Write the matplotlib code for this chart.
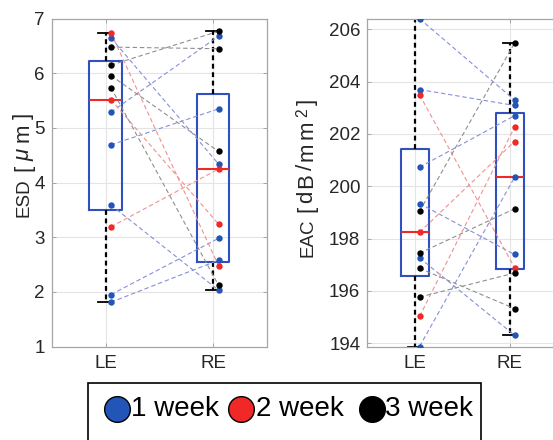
import numpy as np
import matplotlib
matplotlib.use("Agg")
import matplotlib.pyplot as plt
from matplotlib.lines import Line2D
from matplotlib.patches import Rectangle

plt.rcParams['font.family'] = ['Liberation Sans', 'DejaVu Sans']
plt.rcParams['mathtext.fontset'] = 'custom'
plt.rcParams['mathtext.it'] = 'Liberation Sans:italic'
plt.rcParams['mathtext.rm'] = 'Liberation Sans'

# ---------------- data ----------------
categories = ["LE", "RE"]
week_labels = ["1 week", "2 week", "3 week"]

esd_le_week1 = [6.65, 5.29, 4.69, 3.59, 1.95, 1.81]
esd_re_week1 = [4.34, 6.68, 5.35, 2.03, 2.98, 2.58]
esd_le_week2 = [6.74, 5.52, 3.19]
esd_re_week2 = [2.48, 3.24, 4.25]
esd_le_week3 = [6.48, 6.15, 5.96, 5.74]
esd_re_week3 = [6.45, 6.77, 4.57, 2.12]

eac_le_week1 = [206.41, 203.70, 200.73, 199.34, 197.26, 193.87]
eac_re_week1 = [203.30, 203.09, 202.70, 197.39, 194.30, 200.34]
eac_le_week2 = [203.50, 198.24, 195.02]
eac_re_week2 = [196.89, 201.71, 202.26]
eac_le_week3 = [199.04, 197.44, 196.86, 195.76]
eac_re_week3 = [205.48, 199.14, 195.32, 196.68]

esd_yticks = [1, 2, 3, 4, 5, 6, 7]
eac_yticks = [194, 196, 198, 200, 202, 204, 206]

# ---------------- style ----------------
W, H = 553, 440
fig = plt.figure(figsize=(W / 100, H / 100), dpi=100)

BLUE = '#2155b8'
RED = '#f02828'
BLACK = '#000000'
LINE_COLORS = ['#8590d8', '#f29090', '#8f8f8f']
DOT_COLORS = [BLUE, RED, BLACK]
BOX_COLOR = '#3050c0'
MED_COLOR = '#f02828'
SPINE = '#a6a6a6'
TXT = '#262626'
FS = 13.5


def stats_for(data):
    d = np.sort(np.asarray(data, float))
    q1, med, q3 = np.percentile(d, [25, 50, 75], method='hazen')
    iqr = q3 - q1
    lo = d[d >= q1 - 1.5 * iqr].min()
    hi = d[d <= q3 + 1.5 * iqr].max()
    return dict(med=med, q1=q1, q3=q3, whislo=lo, whishi=hi, fliers=[])


def panel(ax, le_groups, re_groups, yticks, ylim):
    le_all = np.concatenate(le_groups)
    re_all = np.concatenate(re_groups)
    st = [stats_for(le_all), stats_for(re_all)]
    ax.bxp(st, positions=[1, 2], widths=0.3, showfliers=False,
           capwidths=0.14,
           boxprops=dict(color=BOX_COLOR, linewidth=1.5),
           medianprops=dict(color=MED_COLOR, linewidth=1.5),
           whiskerprops=dict(color='black', linewidth=1.6, linestyle=(0, (2.2, 1.6))),
           capprops=dict(color='black', linewidth=1.3), zorder=2)
    off = 0.05
    for g in range(3):
        for a, b in zip(le_groups[g], re_groups[g]):
            ax.plot([1 + off, 2 + off], [a, b], linestyle=(0, (4, 2.5)),
                    color=LINE_COLORS[g], linewidth=0.8, zorder=3)
    for g in range(3):
        ax.plot([1 + off] * len(le_groups[g]), le_groups[g], 'o', ms=4.6,
                color=DOT_COLORS[g], mec='none', zorder=4)
        ax.plot([2 + off] * len(re_groups[g]), re_groups[g], 'o', ms=4.6,
                color=DOT_COLORS[g], mec='none', zorder=4)
    ax.set_xlim(0.5, 2.5)
    ax.set_ylim(*ylim)
    ax.set_xticks([1, 2])
    ax.set_xticklabels(categories)
    ax.set_yticks(yticks)
    ax.grid(True, color='#e4e4e4', linewidth=0.8)
    ax.set_axisbelow(True)
    for s in ax.spines.values():
        s.set_color(SPINE)
        s.set_linewidth(0.9)
    ax.tick_params(direction='in', length=3, width=0.7, color=SPINE,
                   labelsize=FS, labelcolor=TXT, top=True, right=True)
    ax.tick_params(axis='y', pad=5)
    ax.tick_params(axis='x', pad=6)


bot = 346.5
top = 18.7
ax1 = fig.add_axes([51.7 / W, 1 - bot / H, (267 - 51.7) / W, (bot - top) / H])
ax2 = fig.add_axes([367.3 / W, 1 - bot / H, 190.0 / W, (bot - top) / H])

panel(ax1, [esd_le_week1, esd_le_week2, esd_le_week3],
      [esd_re_week1, esd_re_week2, esd_re_week3], esd_yticks, (1, 7))

eac_all = np.concatenate([eac_le_week1, eac_le_week2, eac_le_week3,
                          eac_re_week1, eac_re_week2, eac_re_week3])
panel(ax2, [eac_le_week1, eac_le_week2, eac_le_week3],
      [eac_re_week1, eac_re_week2, eac_re_week3], eac_yticks,
      (eac_all.min(), eac_all.max()))

# ---------------- y labels (unit part drawn larger, as in reference) --------
renderer = fig.canvas.get_renderer()


def two_part_label(x_base, y_start, word, unit_parts, gap, tracking, unit_fs):
    y = y_start
    t = fig.text(x_base / W, 1 - y / H, word, rotation=90, rotation_mode='anchor',
                 ha='left', va='baseline', fontsize=FS, color=TXT)
    y -= t.get_window_extent(renderer).height + gap
    for p in unit_parts:
        t = fig.text(x_base / W, 1 - y / H, p, rotation=90, rotation_mode='anchor',
                     ha='left', va='baseline', fontsize=unit_fs, color=TXT)
        y -= t.get_window_extent(renderer).height + tracking


two_part_label(29.0, 217.0, 'ESD', ['[', r'$\mu$', 'm', ']'], 7, 4.5, 16)
two_part_label(312.5, 257.0, 'EAC', ['[', 'd', 'B', '/', 'm', 'm', r'$^{2}$', ']'], 6, 3.0, 16)

# ---------------- legend box ----------------
fig.patches.append(Rectangle((88 / W, -0.02), (481 - 88) / W, 0.02 + 1 - 383 / H,
                             transform=fig.transFigure, fill=False,
                             edgecolor='black', linewidth=1.2))
ly = 1 - 409 / H
mx = [117, 241, 372]
tx = [131, 256, 385]
for i in range(3):
    fig.lines.append(Line2D([mx[i] / W], [ly], marker='o', ms=18.5,
                            color=DOT_COLORS[i], mec='black', mew=1.0,
                            transform=fig.transFigure))
    fig.text(tx[i] / W, ly, week_labels[i], fontsize=20, va='center',
             ha='left', color='black')

fig.savefig('out.png', dpi=100)
